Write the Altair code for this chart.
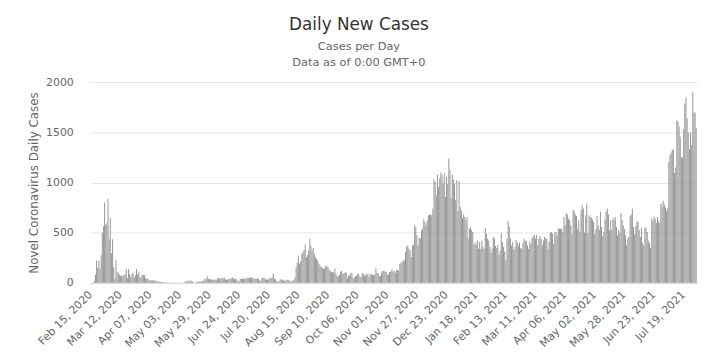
import altair as alt
import pandas as pd

# Daily new cases, one list per month (Feb 15, 2020 .. Jul 30, 2021)
feb_2020 = [0, 0, 0, 17, 80, 220, 150, 220, 140, 276, 500, 565, 800, 580, 590]
mar_2020 = [838, 434, 647, 296, 434, 155, 40, 227, 105, 100, 80, 72, 65, 72, 75, 85,
            138, 46, 138, 88, 55, 85, 100, 50, 75, 138, 85, 112, 60, 50, 78]
apr_2020 = [78, 78, 45, 40, 40, 30, 23, 23, 23, 23, 23, 20, 13, 13, 13, 10, 8, 7, 5, 5,
            4, 3, 3, 2, 0, 0, 0, 0, 0, 0]
may_2020 = [0, 0, 0, 0, 0, 0, 0, 15, 8, 20, 20, 18, 22, 15, 3, 2, 4, 13, 10, 13, 8, 12,
            20, 18, 40, 35, 66, 40, 38, 30, 33]
jun_2020 = [35, 28, 33, 23, 46, 42, 48, 40, 50, 45, 52, 33, 30, 35, 40, 38, 42, 56, 45,
            36, 40, 32, 13, 15, 40, 35, 42, 38, 45, 40]
jul_2020 = [50, 45, 52, 48, 55, 50, 40, 42, 38, 45, 40, 23, 20, 50, 48, 52, 33, 35, 30,
            36, 50, 45, 52, 96, 40, 35, 13, 15, 12, 33, 30]
aug_2020 = [33, 23, 20, 25, 30, 30, 23, 15, 7, 23, 25, 56, 155, 200, 270, 190, 210, 290,
            305, 330, 385, 255, 275, 320, 440, 370, 320, 350, 290, 255, 240]
sep_2020 = [220, 190, 175, 155, 150, 140, 145, 170, 165, 155, 130, 120, 105, 108, 105,
            140, 90, 66, 70, 80, 110, 120, 90, 95, 105, 100, 46, 73, 75, 100]
oct_2020 = [95, 46, 55, 66, 70, 90, 88, 56, 60, 95, 92, 73, 75, 90, 85, 56, 90, 85, 80,
            78, 80, 145, 100, 98, 66, 70, 100, 120, 118, 110, 112]
nov_2020 = [80, 85, 107, 110, 133, 113, 118, 100, 133, 125, 123, 190, 200, 205, 223, 225,
            307, 357, 373, 340, 323, 257, 373, 380, 580, 553, 473, 373, 447, 447]
dec_2020 = [523, 540, 633, 607, 580, 620, 673, 680, 680, 673, 740, 1033, 1007, 873, 1080,
            957, 1040, 1100, 1073, 990, 1093, 857, 1057, 983, 1240, 1123, 840, 1080, 1030,
            990, 823]
jan_2021 = [1023, 713, 1013, 757, 720, 647, 680, 657, 623, 657, 440, 540, 553, 523, 507,
            380, 400, 380, 423, 340, 407, 340, 423, 357, 340, 547, 490, 440, 423, 357, 300]
feb_2021 = [340, 457, 440, 367, 347, 380, 280, 323, 500, 407, 357, 313, 223, 440, 617,
            557, 440, 373, 407, 330, 357, 430, 400, 373, 400, 347, 340, 397]
mar_2021 = [440, 420, 420, 373, 340, 413, 387, 447, 463, 480, 440, 480, 373, 440, 463,
            440, 373, 423, 457, 440, 440, 340, 413, 500, 507, 490, 390, 500, 507, 473, 547]
apr_2021 = [540, 540, 540, 507, 657, 573, 697, 680, 640, 623, 573, 490, 730, 713, 680,
            667, 533, 623, 507, 723, 773, 740, 500, 673, 790, 500, 673, 657, 650, 630]
may_2021 = [607, 483, 540, 667, 573, 530, 707, 557, 463, 507, 630, 710, 740, 680, 523,
            623, 523, 647, 623, 657, 557, 473, 530, 497, 697, 630, 573, 540, 473, 380, 440]
jun_2021 = [457, 663, 680, 737, 557, 483, 563, 607, 613, 523, 457, 550, 397, 373, 550,
            550, 507, 423, 397, 350, 640, 617, 663, 640, 597, 657, 617, 597, 790, 757]
jul_2021 = [817, 783, 750, 717, 740, 1207, 1273, 1297, 1323, 1330, 1097, 1150, 1617, 1607,
            1557, 1457, 1250, 1250, 1530, 1790, 1850, 1640, 1497, 1330, 1497, 1373, 1897,
            1697, 1697, 1540]

cases = (feb_2020 + mar_2020 + apr_2020 + may_2020 + jun_2020 + jul_2020 + aug_2020
         + sep_2020 + oct_2020 + nov_2020 + dec_2020 + jan_2021 + feb_2021 + mar_2021
         + apr_2021 + may_2021 + jun_2021 + jul_2021)

dates = pd.date_range("2020-02-15", periods=len(cases), freq="D")
labels = [d.strftime("%b %d, %Y") for d in dates]
tick_labels = labels[::26]
y_ticks = [0, 500, 1000, 1500, 2000]

df = pd.DataFrame({"date": labels, "cases": cases})

FONT = "DejaVu Sans"

chart = alt.Chart(df).mark_bar(color="#999999").encode(
    x=alt.X(
        "date:O",
        sort=None,
        scale=alt.Scale(paddingInner=0.1, paddingOuter=0.3),
        axis=alt.Axis(
            values=tick_labels,
            title=None,
            labelAngle=-45,
            labelAlign="right",
            labelBaseline="middle",
            labelPadding=10,
            labelFont=FONT,
            labelFontSize=11,
            labelColor="#666666",
            labelOverlap=False,
            labelBound=False,
            labelFlush=False,
            ticks=False,
            grid=False,
            domainColor="#ccd6eb",
            domainWidth=1,
        ),
    ),
    y=alt.Y(
        "cases:Q",
        scale=alt.Scale(domain=[0, 2000], nice=False),
        axis=alt.Axis(
            values=y_ticks,
            format="d",
            title="Novel Coronavirus Daily Cases",
            titleFont=FONT,
            titleFontSize=12,
            titleFontWeight="normal",
            titleColor="#666666",
            titlePadding=5,
            labelFont=FONT,
            labelFontSize=11,
            labelColor="#666666",
            labelPadding=17,
            ticks=False,
            domain=False,
            grid=True,
            gridColor="#e6e6e6",
            gridWidth=1,
        ),
    ),
).properties(
    width=614,
    height=203,
    autosize=alt.AutoSizeParams(type="none"),
    padding={"left": 83, "top": 73, "right": 6, "bottom": 70},
    title=alt.TitleParams(
        text="Daily New Cases",
        subtitle=["Cases per Day", "Data as of 0:00 GMT+0"],
        anchor="middle",
        dx=-35,
        font=FONT,
        fontSize=17,
        fontWeight="normal",
        color="#333333",
        subtitleFont=FONT,
        subtitleFontSize=11.5,
        subtitleColor="#666666",
        subtitlePadding=7,
        subtitleLineHeight=16,
        offset=7,
    ),
).configure(background="white").configure_view(stroke=None)

chart.save("out.html", embed_options={"renderer": "svg", "actions": False})
